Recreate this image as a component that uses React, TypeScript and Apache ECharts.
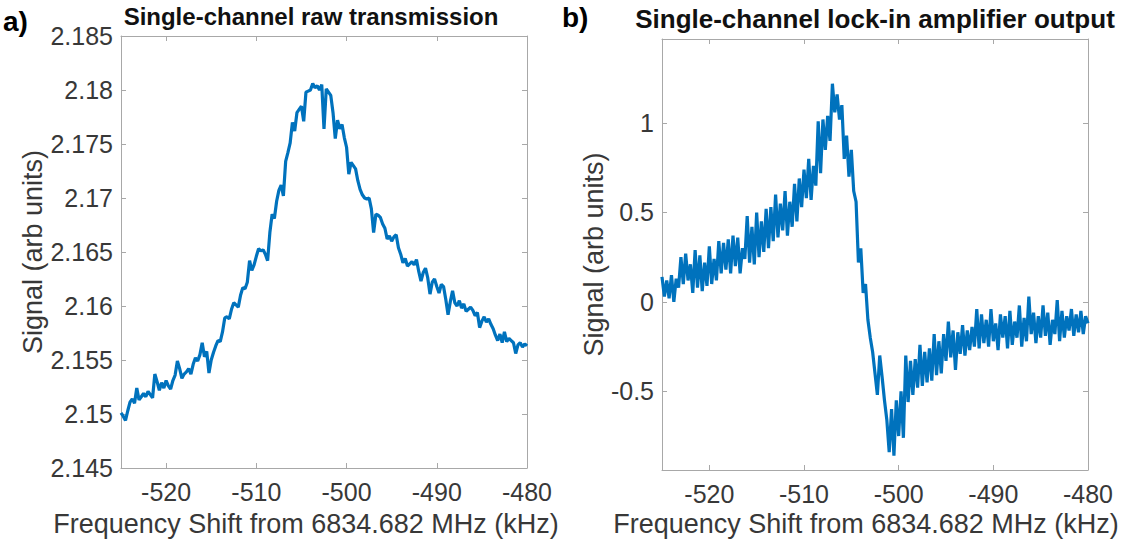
import React, { useEffect, useRef } from "react";
import * as echarts from "echarts";

const FREQ_START = -525;
const FREQ_STEP = 0.25;
const X_MIN = -525;
const X_MAX = -480;
const xTicks = [-520, -510, -500, -490, -480];
const yTicksA = [2.145, 2.15, 2.155, 2.16, 2.165, 2.17, 2.175, 2.18, 2.185];
const yTicksB = [-0.5, 0, 0.5, 1];

const titleA = "Single-channel raw transmission";
const titleB = "Single-channel lock-in amplifier output";
const xName = "Frequency Shift from 6834.682 MHz (kHz)";
const yName = "Signal (arb units)";

// raw transmission, sampled every 0.25 kHz from -525 to -480
const rawTransmission = [
  2.1501, 2.1498, 2.1494, 2.1503, 2.1511, 2.1514, 2.151, 2.1524, 2.1513, 2.1516,
  2.1519, 2.1516, 2.1521, 2.1518, 2.1515, 2.1537, 2.153, 2.1522, 2.1529, 2.1524,
  2.1531, 2.1526, 2.1523, 2.1531, 2.1536, 2.1549, 2.1542, 2.1533, 2.1537, 2.1539,
  2.1542, 2.1537, 2.1546, 2.1552, 2.1549, 2.1555, 2.1566, 2.1553, 2.1558, 2.1538,
  2.155, 2.1557, 2.1563, 2.1568, 2.1567, 2.1576, 2.1589, 2.159, 2.1588, 2.1597,
  2.1603, 2.1601, 2.1599, 2.161, 2.1617, 2.1616, 2.1622, 2.1642, 2.1633, 2.1638,
  2.1646, 2.1653, 2.1651, 2.1652, 2.1648, 2.1642, 2.1668, 2.1685, 2.1681, 2.1697,
  2.1707, 2.1712, 2.1702, 2.1734, 2.1742, 2.1751, 2.177, 2.1762, 2.1779, 2.1782,
  2.1785, 2.1771, 2.1798, 2.1799, 2.18, 2.1806, 2.1802, 2.1804, 2.18, 2.1805,
  2.1764, 2.1801, 2.1798, 2.1795, 2.1779, 2.1755, 2.1772, 2.1764, 2.1768, 2.1756,
  2.1747, 2.1722, 2.1733, 2.173, 2.1727, 2.1716, 2.1708, 2.1703, 2.17, 2.1699,
  2.17, 2.169, 2.1668, 2.1685, 2.1684, 2.1682, 2.1676, 2.1672, 2.1662, 2.1665,
  2.166, 2.1664, 2.1666, 2.1654, 2.1648, 2.164, 2.1644, 2.1637, 2.1639, 2.1641,
  2.1638, 2.1643, 2.1632, 2.1623, 2.1631, 2.1635, 2.1626, 2.1611, 2.1622, 2.1625,
  2.1618, 2.1612, 2.162, 2.1618, 2.1606, 2.1592, 2.1604, 2.1614, 2.1603, 2.16,
  2.1605, 2.1598, 2.1602, 2.1595, 2.1597, 2.1599, 2.1596, 2.1591, 2.1594, 2.158,
  2.1586, 2.159, 2.1585, 2.1588, 2.1583, 2.1579, 2.1573, 2.1568, 2.1574, 2.1566,
  2.1576, 2.1567, 2.157, 2.1568, 2.1566, 2.1556, 2.1564, 2.1566, 2.1562, 2.1565,
  2.1563,
];

// lock-in amplifier output, sampled every 0.25 kHz from -525 to -480
const lockInOutput = [
  0.14, 0.03, 0.12, 0.02, 0.15, 0.0, 0.13, 0.08, 0.25, 0.1,
  0.27, 0.12, 0.21, 0.05, 0.29, 0.08, 0.26, 0.06, 0.22, 0.09,
  0.31, 0.1, 0.24, 0.12, 0.34, 0.16, 0.33, 0.18, 0.35, 0.16,
  0.37, 0.2, 0.36, 0.16, 0.3, 0.24, 0.48, 0.22, 0.42, 0.21,
  0.5, 0.25, 0.45, 0.28, 0.52, 0.3, 0.53, 0.34, 0.6, 0.36,
  0.55, 0.4, 0.62, 0.37, 0.56, 0.42, 0.66, 0.45, 0.69, 0.53,
  0.74, 0.58, 0.8, 0.57, 0.76, 0.65, 1.01, 0.72, 1.02, 0.85,
  1.04, 0.9, 1.22, 1.06, 1.16, 1.02, 1.1, 0.8, 0.93, 0.7,
  0.85, 0.62, 0.56, 0.22, 0.3, 0.05, 0.1, -0.1, -0.2, -0.28,
  -0.4, -0.52, -0.3, -0.42, -0.55, -0.66, -0.84, -0.6, -0.86, -0.55,
  -0.75, -0.5, -0.76, -0.3, -0.56, -0.33, -0.52, -0.32, -0.48, -0.24,
  -0.47, -0.28, -0.45, -0.26, -0.44, -0.18, -0.41, -0.22, -0.4, -0.18,
  -0.33, -0.11, -0.31, -0.16, -0.38, -0.17, -0.29, -0.13, -0.3, -0.16,
  -0.27, -0.14, -0.25, -0.04, -0.26, -0.07, -0.23, -0.1, -0.25, -0.04,
  -0.22, -0.12, -0.27, -0.07, -0.2, -0.08, -0.26, -0.05, -0.24, -0.11,
  -0.2, -0.02, -0.25, -0.09, -0.22, 0.03, -0.18, -0.06, -0.23, -0.08,
  -0.2, -0.02, -0.19, -0.06, -0.24, -0.1, -0.18, 0.01, -0.22, -0.05,
  -0.2, -0.08, -0.16, -0.04, -0.19, -0.07, -0.17, -0.05, -0.18, -0.08,
  -0.12,
];

const FONT = '"Liberation Sans", Arial, Helvetica, sans-serif';
const AXIS_COLOR = "#a8a8a8";
const TEXT_COLOR = "#383838";
const LINE_COLOR = "#0072BD";
const TICK_SIZE = 25;
const NAME_SIZE = 27;

const toPairs = (vals: number[]) =>
  vals.map((v, i) => [FREQ_START + i * FREQ_STEP, v]);

const fmtA = (v: number) => String(parseFloat(v.toFixed(3)));
const fmtB = (v: number) => String(parseFloat(v.toFixed(2)));

function mainX(gridIndex: number) {
  return {
    gridIndex,
    type: "value",
    min: X_MIN,
    max: X_MAX,
    position: "bottom",
    axisLine: { show: true, onZero: false, lineStyle: { color: AXIS_COLOR, width: 1 } },
    axisTick: { show: true, inside: true, length: 5, customValues: xTicks, lineStyle: { color: AXIS_COLOR } },
    axisLabel: { show: true, customValues: xTicks, fontSize: TICK_SIZE, color: TEXT_COLOR, fontFamily: FONT, margin: 11 },
    splitLine: { show: false },
  };
}

function mirrorX(gridIndex: number) {
  return {
    gridIndex,
    type: "value",
    min: X_MIN,
    max: X_MAX,
    position: "top",
    axisLine: { show: true, onZero: false, lineStyle: { color: AXIS_COLOR, width: 1 } },
    axisTick: { show: true, inside: true, length: 5, customValues: xTicks, lineStyle: { color: AXIS_COLOR } },
    axisLabel: { show: false },
    splitLine: { show: false },
  };
}

function mainY(gridIndex: number, min: number, max: number, ticks: number[], fmt: (v: number) => string, nameGap: number) {
  return {
    gridIndex,
    type: "value",
    min,
    max,
    position: "left",
    axisLine: { show: true, onZero: false, lineStyle: { color: AXIS_COLOR, width: 1 } },
    axisTick: { show: true, inside: true, length: 5, customValues: ticks, lineStyle: { color: AXIS_COLOR } },
    axisLabel: { show: true, customValues: ticks, formatter: fmt, fontSize: TICK_SIZE, color: TEXT_COLOR, fontFamily: FONT, margin: 8 },
    splitLine: { show: false },
    name: yName,
    nameLocation: "middle",
    nameGap,
    nameTextStyle: { fontSize: NAME_SIZE, color: TEXT_COLOR, fontFamily: FONT },
  };
}

function mirrorY(gridIndex: number, min: number, max: number, ticks: number[]) {
  return {
    gridIndex,
    type: "value",
    min,
    max,
    position: "right",
    axisLine: { show: true, onZero: false, lineStyle: { color: AXIS_COLOR, width: 1 } },
    axisTick: { show: true, inside: true, length: 5, customValues: ticks, lineStyle: { color: AXIS_COLOR } },
    axisLabel: { show: false },
    splitLine: { show: false },
  };
}

function centeredText(text: string, x: number, y: number, font: string, fill: string) {
  return {
    type: "text",
    x,
    y,
    style: { text, font, fill, align: "center", verticalAlign: "middle", textAlign: "center", textVerticalAlign: "middle" },
  };
}

export default function App() {
  const ref = useRef<HTMLDivElement | null>(null);

  useEffect(() => {
    if (!ref.current) return;
    const chart = echarts.init(ref.current, undefined, { renderer: "svg" });
    chart.setOption({
      animation: false,
      backgroundColor: "#ffffff",
      grid: [
        { left: 121, top: 36, width: 406, height: 432 },
        { left: 662, top: 39, width: 426, height: 431 },
      ],
      xAxis: [mainX(0), mirrorX(0), mainX(1), mirrorX(1)],
      yAxis: [
        mainY(0, 2.145, 2.185, yTicksA, fmtA, 70),
        mirrorY(0, 2.145, 2.185, yTicksA),
        mainY(1, -0.94, 1.47, yTicksB, fmtB, 54),
        mirrorY(1, -0.94, 1.47, yTicksB),
      ],
      series: [
        {
          type: "line",
          xAxisIndex: 0,
          yAxisIndex: 0,
          data: toPairs(rawTransmission),
          showSymbol: false,
          lineStyle: { color: LINE_COLOR, width: 3.2 },
          itemStyle: { color: LINE_COLOR },
        },
        {
          type: "line",
          xAxisIndex: 2,
          yAxisIndex: 2,
          data: toPairs(lockInOutput),
          showSymbol: false,
          lineStyle: { color: LINE_COLOR, width: 3.2 },
          itemStyle: { color: LINE_COLOR },
        },
      ],
      graphic: [
        centeredText(titleA, 311, 16, `bold 24px ${FONT}`, "#111111"),
        centeredText(titleB, 875, 19, `bold 26px ${FONT}`, "#111111"),
        centeredText(xName, 306, 524, `${NAME_SIZE}px ${FONT}`, TEXT_COLOR),
        centeredText(xName, 866, 524, `${NAME_SIZE}px ${FONT}`, TEXT_COLOR),
        {
          type: "text",
          x: 3,
          y: 21,
          style: { text: "a)", font: `bold 28px ${FONT}`, fill: "#000000", verticalAlign: "middle", textVerticalAlign: "middle" },
        },
        {
          type: "text",
          x: 562,
          y: 17,
          style: { text: "b)", font: `bold 28px ${FONT}`, fill: "#000000", verticalAlign: "middle", textVerticalAlign: "middle" },
        },
      ],
    });
    return () => chart.dispose();
  }, []);

  return (
    <div
      ref={ref}
      style={{ position: "fixed", left: 0, top: 0, width: 1135, height: 548, background: "#ffffff" }}
    />
  );
}
